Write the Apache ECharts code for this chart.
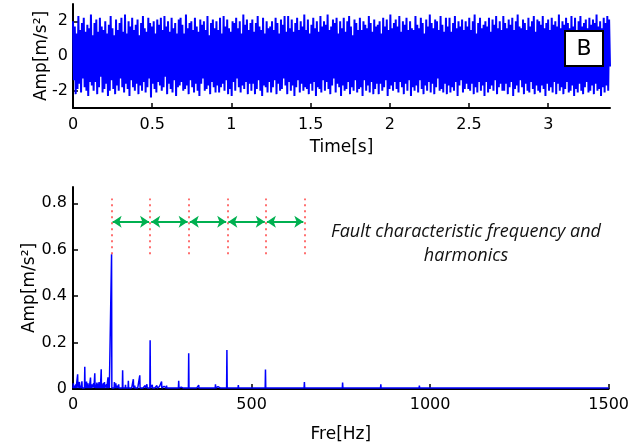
<!DOCTYPE html>
<html>
<head>
<meta charset="utf-8">
<script src="https://cdn.jsdelivr.net/npm/echarts@6/dist/echarts.min.js"></script>
<style>
html,body{margin:0;padding:0;background:#fff;}
#chart{width:632px;height:448px;}
</style>
</head>
<body>
<div id="chart"></div>
<script>
// ---- data ----
const timeEnd = 3.39;
const timeTicks = [0, 0.5, 1, 1.5, 2, 2.5, 3];
const ampTicks = [-2, 0, 2];
const timeSignal = [
 2.0,-1.4,1.7,-2.2,1.3,-1.9,2.3,-1.6,1.5,-2.1,1.9,-1.3,2.2,-1.8,1.4,-2.0,1.8,-2.3,1.6,-1.5,
 2.4,-1.7,1.2,-2.0,1.9,-1.5,2.1,-2.2,1.4,-1.8,2.2,-1.2,1.7,-2.1,1.5,-1.9,2.0,-1.6,1.3,-2.3,
 1.8,-2.0,2.3,-1.4,1.6,-1.9,1.2,-2.2,2.1,-1.7,1.5,-2.0,1.9,-1.3,2.2,-1.8,1.4,-2.1,2.4,-1.6,
 1.3,-1.9,2.0,-2.3,1.7,-1.4,2.2,-1.8,1.5,-2.0,1.8,-1.6,2.1,-2.2,1.2,-1.7,1.9,-2.0,2.3,-1.5,
 1.6,-2.1,1.4,-1.8,2.2,-1.3,1.9,-2.4,1.7,-1.6,2.0,-1.9,1.3,-2.1,2.1,-1.5,1.8,-1.7,2.2,-2.0,
 1.5,-1.8,2.3,-1.2,1.7,-2.2,2.0,-1.6,1.4,-1.9,2.2,-2.1,1.6,-1.4,1.9,-2.3,1.3,-1.8,2.1,-1.7,
 2.2,-1.5,1.8,-2.0,1.3,-1.9,2.4,-1.7,1.6,-2.2,1.9,-1.4,2.0,-1.8,1.5,-2.1,2.2,-1.6,1.7,-2.0,
 1.4,-2.3,2.1,-1.6,1.8,-1.3,2.0,-2.0,1.5,-1.9,2.3,-1.7,1.2,-2.2,1.9,-1.5,2.1,-1.8,1.6,-2.1,
 2.0,-1.7,1.5,-2.1,2.2,-1.8,1.3,-1.6,2.3,-2.0,1.7,-1.4,2.1,-2.2,1.6,-1.9,1.4,-2.3,2.0,-1.5,
 1.9,-2.0,2.2,-1.3,1.6,-1.8,2.0,-2.1,1.3,-1.7,2.4,-1.9,1.8,-1.5,2.1,-2.2,1.5,-1.6,1.9,-2.0,
 2.1,-1.6,1.4,-2.2,1.9,-1.9,2.3,-1.4,1.7,-2.0,1.5,-2.3,2.2,-1.7,1.3,-1.8,2.0,-2.1,1.6,-1.5,
 1.7,-2.1,2.0,-1.8,1.5,-1.4,2.2,-2.2,1.9,-1.6,1.3,-2.0,2.1,-1.9,1.8,-1.3,2.3,-1.7,1.4,-2.2,
 2.3,-1.5,1.6,-2.0,2.1,-1.7,1.4,-2.3,1.9,-1.8,2.2,-1.4,1.5,-2.1,2.0,-1.6,1.7,-2.0,2.4,-1.8,
 1.5,-1.9,2.1,-2.2,1.3,-1.6,1.8,-2.0,2.2,-1.5,1.6,-2.3,2.0,-1.8,1.4,-1.9,2.3,-2.1,1.7,-1.4,
 2.0,-2.0,1.8,-1.5,2.4,-1.9,1.5,-2.2,1.7,-1.7,2.1,-1.3,1.9,-2.1,2.2,-1.6,1.3,-1.8,2.0,-2.3,
 1.6,-1.7,2.2,-2.0,1.4,-1.9,2.0,-1.5,2.3,-2.2,1.7,-1.8,1.2,-2.0,2.1,-1.4,1.9,-2.1,1.5,-1.9,
 2.2,-1.8,1.5,-2.3,2.0,-1.4,1.8,-2.0,1.6,-1.7,2.3,-2.1,1.9,-1.5,1.4,-2.2,2.1,-1.9,1.7,-1.6,
 1.8,-2.2,2.0,-1.6,1.3,-2.0,2.2,-1.8,1.7,-1.4,2.1,-2.3,1.5,-1.9,2.4,-1.7,1.6,-2.0,1.9,-1.5,
 2.1,-1.9,1.7,-2.1,2.3,-1.5,1.4,-1.8,2.0,-2.2,1.8,-1.6,2.2,-2.0,1.5,-1.4,2.0,-2.3,1.6,-1.8,
 1.5,-2.0,2.3,-1.7,1.8,-2.1,1.6,-1.4,2.2,-1.9,1.9,-2.2,1.3,-1.7,2.1,-2.0,1.7,-1.5,2.4,-2.1,
 1.9,-1.6,1.6,-2.2,2.1,-1.8,2.0,-1.3,1.5,-2.0,2.3,-1.9,1.8,-2.1,1.4,-1.6,2.2,-2.2,1.7,-1.7,
 2.2,-2.1,1.4,-1.8,1.9,-2.0,2.3,-1.5,1.6,-2.3,2.0,-1.7,1.7,-1.4,2.1,-2.1,1.5,-1.9,2.0,-1.6,
 1.7,-1.9,2.2,-2.0,1.5,-1.6,2.0,-2.2,2.4,-1.8,1.3,-2.1,1.9,-1.5,2.2,-2.0,1.6,-1.7,1.8,-2.3,
 2.0,-1.5,1.7,-2.1,2.2,-1.9,1.4,-1.7,2.1,-2.0,1.8,-1.4,2.3,-2.2,1.6,-1.8,2.0,-1.6,1.5,-2.0,
 2.3,-2.0,1.9,-1.6,1.6,-2.2,2.1,-1.8,1.8,-1.5,2.2,-2.3,1.5,-1.9,2.0,-1.7,2.4,-2.1,1.7,-1.4,
 1.6,-1.8,2.1,-2.2,1.9,-1.6,1.5,-2.0,2.2,-2.1,1.7,-1.5,2.0,-1.9,2.3,-2.2,1.4,-1.7,2.1,-2.0,
 2.0,-2.1,1.8,-1.7,2.3,-1.9,1.6,-2.3,1.9,-1.6,2.1,-2.0,1.5,-1.8,2.2,-2.1,1.8,-1.5,2.0,-2.2,
 1.7,-1.6,2.4,-2.0,1.6,-1.8,2.0,-2.2,1.8,-1.9,2.2,-1.5,1.9,-2.1,1.6,-2.0,2.3,-1.7,1.7,-2.3,
 2.2,-1.9,1.5,-2.1,2.0,-1.6,2.3,-2.0,1.7,-2.2,1.9,-1.8,2.1,-1.5,1.6,-2.1,2.2,-2.0,1.8,-1.7,
 2.1,-2.2,1.9,-1.6,2.4,-2.0,1.7,-1.9,2.0,-2.3,1.6,-1.8,2.2,-2.1,1.9,-1.7,2.3,-2.0,2.1,-0.6
];

const freqTicks = [0, 500, 1000, 1500];
const specTicks = [0, 0.2, 0.4, 0.6, 0.8];
const specFloor = 0.004;
const specFreq = [1,4,8,13,16,18,22,25,28,33,36,38,42,45,49,52,55,58,61,64,67,70,73,76,79,82,85,88,91,94,98,101,104,
 108,
 112,116,120,124,128,133,139,143,147,151,155,160,165,169,173,178,182,187,192,197,202,207,212,
 216,
 222,228,235,242,248,255,262,270,276,283,290,296,303,310,317,
 324,
 332,340,347,352,360,368,375,382,390,399,406,414,421,
 431,
 440,452,463,475,488,497,505,515,525,
 539,
 548,560,575,590,605,620,635,
 648,
 665,680,700,720,740,
 755,
 775,800,830,
 862,
 890,920,945,
 970,
 1000,1030,1055,1080,1110,1140,1180,1200,1250,1300,1350,1400,1450,1498];
const specAmp = [0.025,0.015,0.02,0.063,0.012,0.03,0.015,0.033,0.01,0.096,0.02,0.032,0.025,0.015,0.049,0.02,0.012,0.025,0.068,0.018,0.028,0.022,0.03,0.015,0.085,0.02,0.025,0.03,0.012,0.02,0.05,0.025,0.01,
 0.58,
 0.012,0.03,0.025,0.015,0.02,0.01,0.081,0.012,0.018,0.01,0.035,0.012,0.008,0.042,0.015,0.01,0.012,0.059,0.01,0.008,0.015,0.02,0.012,
 0.21,
 0.018,0.012,0.015,0.01,0.032,0.012,0.015,0.01,0.012,0.008,0.01,0.035,0.008,0.01,0.008,
 0.154,
 0.008,0.01,0.006,0.017,0.008,0.006,0.01,0.006,0.012,0.02,0.01,0.008,0.012,
 0.168,
 0.006,0.008,0.017,0.006,0.01,0.006,0.012,0.006,0.008,
 0.084,
 0.006,0.005,0.008,0.005,0.006,0.005,0.006,
 0.03,
 0.004,0.005,0.004,0.006,0.005,
 0.028,
 0.004,0.005,0.004,
 0.02,
 0.004,0.005,0.004,
 0.015,
 0.004,0.005,0.004,0.01,0.004,0.005,0.004,0.008,0.004,0.005,0.004,0.005,0.004,0.003];

const harmonics = [108, 216, 324, 432, 540, 648];
const dotLow = 0.58, dotHigh = 0.82, arrowLevel = 0.72;

// ---- build series ----
const timeData = timeSignal.map((v, i) => [i * timeEnd / (timeSignal.length - 1), v]);
const specData = [[0, specFloor]];
specFreq.forEach((f, i) => {
  specData.push([f - 0.8, specFloor]);
  specData.push([f, specAmp[i]]);
  specData.push([f + 0.8, specFloor]);
});
specData.push([1500, specFloor]);

const redLines = harmonics.map(f => [{coord: [f, dotLow]}, {coord: [f, dotHigh]}]);
const greenArrows = [];
for (let i = 0; i < harmonics.length - 1; i++) {
  greenArrows.push([{coord: [harmonics[i] + 3, arrowLevel]}, {coord: [harmonics[i + 1] - 3, arrowLevel]}]);
}

const FONT = 'DejaVu Sans';
const plainFmt = v => String(v);
const axisCommon = {
  axisLine: {show: true, onZero: false, lineStyle: {color: '#000', width: 2}},
  axisTick: {show: true, inside: true, length: 5, lineStyle: {color: '#000', width: 1.5}},
  splitLine: {show: false},
  axisLabel: {color: '#000', fontFamily: FONT, fontSize: 16, formatter: plainFmt},
  nameTextStyle: {color: '#000', fontFamily: FONT, fontSize: 17},
  nameLocation: 'middle',
  nameMoveOverlap: false
};

const chart = echarts.init(document.getElementById('chart'), null, {renderer: 'canvas'});
chart.setOption({
  animation: false,
  backgroundColor: '#fff',
  grid: [
    {left: 73, right: 22, top: 4, height: 104},
    {left: 73, right: 22, top: 187, height: 202}
  ],
  xAxis: [
    Object.assign({}, axisCommon, {
      gridIndex: 0, type: 'value', min: 0, max: timeEnd, name: 'Time[s]', nameGap: 31,
      axisLabel: Object.assign({}, axisCommon.axisLabel, {margin: 9, customValues: timeTicks}),
      axisTick: Object.assign({}, axisCommon.axisTick, {customValues: timeTicks})
    }),
    Object.assign({}, axisCommon, {
      gridIndex: 1, type: 'value', min: 0, max: 1500, name: 'Fre[Hz]', nameGap: 37,
      axisLabel: Object.assign({}, axisCommon.axisLabel, {margin: 8, customValues: freqTicks}),
      axisTick: Object.assign({}, axisCommon.axisTick, {customValues: freqTicks})
    })
  ],
  yAxis: [
    Object.assign({}, axisCommon, {
      gridIndex: 0, type: 'value', min: -3, max: 3, name: 'Amp[m/s²]', nameGap: 23,
      axisLabel: Object.assign({}, axisCommon.axisLabel, {margin: 5, customValues: ampTicks}),
      axisTick: Object.assign({}, axisCommon.axisTick, {customValues: ampTicks})
    }),
    Object.assign({}, axisCommon, {
      gridIndex: 1, type: 'value', min: 0, max: 0.87, name: 'Amp[m/s²]', nameGap: 35,
      axisLabel: Object.assign({}, axisCommon.axisLabel, {margin: 6, customValues: specTicks}),
      axisTick: Object.assign({}, axisCommon.axisTick, {customValues: specTicks})
    })
  ],
  series: [
    {
      type: 'line', xAxisIndex: 0, yAxisIndex: 0, data: timeData,
      showSymbol: false, symbol: 'none', lineStyle: {color: '#0000ff', width: 2}, z: 1
    },
    {
      type: 'line', xAxisIndex: 1, yAxisIndex: 1, data: specData,
      showSymbol: false, symbol: 'none', lineStyle: {color: '#0000ff', width: 1.5}, z: 3
    },
    {
      type: 'line', xAxisIndex: 1, yAxisIndex: 1, data: [],
      markLine: {
        silent: true, symbol: ['none', 'none'], label: {show: false},
        lineStyle: {color: '#ff4040', width: 1.5, type: [2, 4]},
        data: redLines
      }
    },
    {
      type: 'line', xAxisIndex: 1, yAxisIndex: 1, data: [],
      markLine: {
        silent: true, symbol: ['arrow', 'arrow'], symbolSize: [9, 9], label: {show: false},
        lineStyle: {color: '#00b050', width: 2, type: 'solid'},
        data: greenArrows
      }
    }
  ],
  graphic: [
    {type: 'rect', shape: {x: 565, y: 31, width: 38, height: 35},
     style: {fill: '#fff', stroke: '#000', lineWidth: 2}, z: 100},
    {type: 'text', x: 584, y: 49, z: 101,
     style: {text: 'B', fill: '#000', font: '22px "DejaVu Sans"', textAlign: 'center', textVerticalAlign: 'middle'}},
    {type: 'text', x: 466, y: 232, z: 101,
     style: {text: 'Fault characteristic frequency and', fill: '#111', font: 'italic 18px "Open Sans"', textAlign: 'center', textVerticalAlign: 'middle'}},
    {type: 'text', x: 466, y: 256, z: 101,
     style: {text: 'harmonics', fill: '#111', font: 'italic 18px "Open Sans"', textAlign: 'center', textVerticalAlign: 'middle'}}
  ]
});
</script>
</body>
</html>
